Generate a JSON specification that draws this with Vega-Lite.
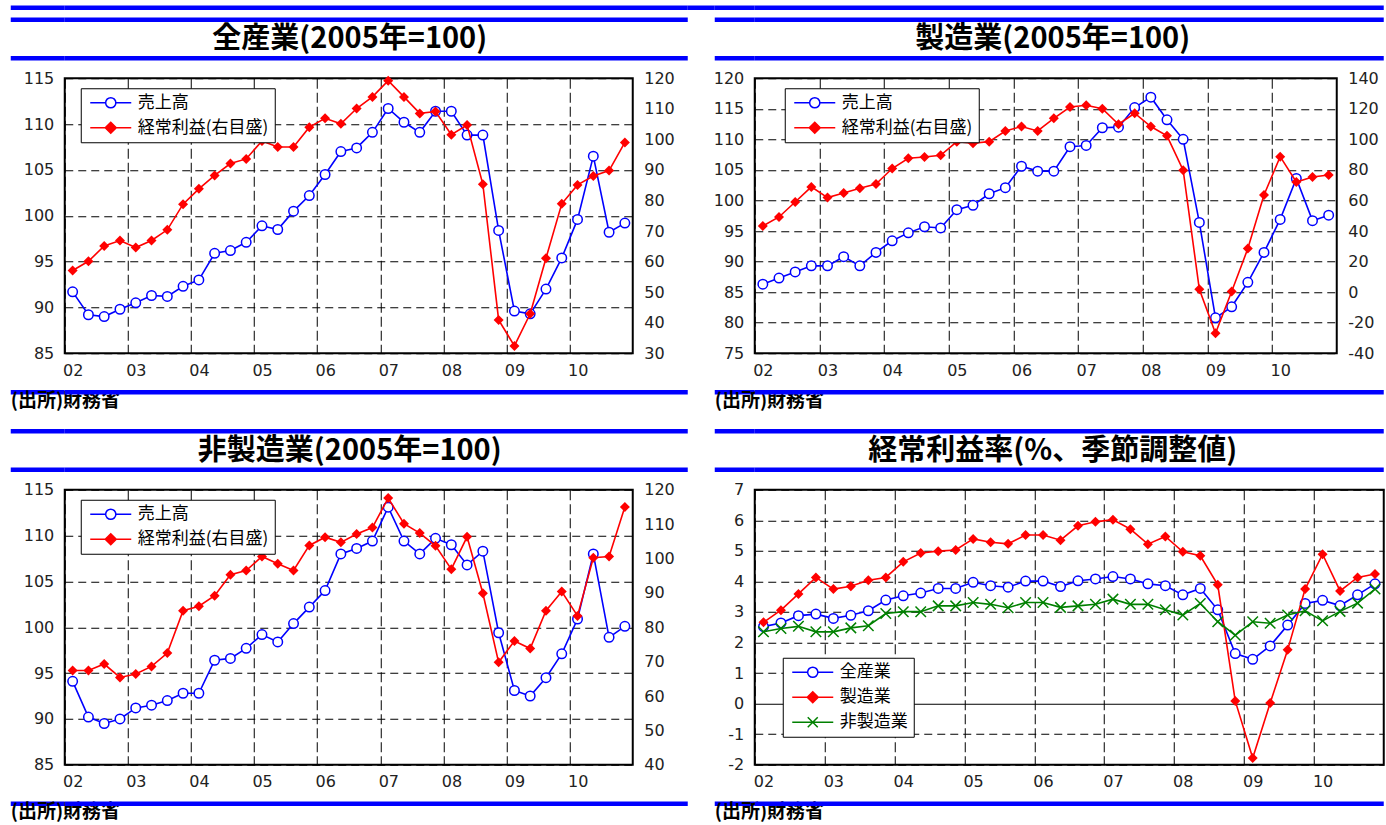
{
  "$schema": "https://vega.github.io/schema/vega-lite/v6.json",
  "padding": {"left": 7.75, "top": 4.75, "right": 0, "bottom": 0},
  "bounds": "flush",
  "columns": 5,
  "align": "each",
  "spacing": {"row": 19.5, "column": 0},
  "resolve": {"scale": {"color": "independent"}, "legend": {"color": "independent"}},
  "datasets": {
    "zen": [
      {"t":2002.125,"売上高":91.7,"経常利益":57.1},{"t":2002.375,"売上高":89.2,"経常利益":60.1},{"t":2002.625,"売上高":89.0,"経常利益":65.1},{"t":2002.875,"売上高":89.8,"経常利益":66.9},
      {"t":2003.125,"売上高":90.5,"経常利益":64.6},{"t":2003.375,"売上高":91.3,"経常利益":66.9},{"t":2003.625,"売上高":91.2,"経常利益":70.4},{"t":2003.875,"売上高":92.3,"経常利益":78.8},
      {"t":2004.125,"売上高":93.0,"経常利益":83.8},{"t":2004.375,"売上高":95.9,"経常利益":88.2},{"t":2004.625,"売上高":96.2,"経常利益":92.1},{"t":2004.875,"売上高":97.1,"経常利益":93.6},
      {"t":2005.125,"売上高":98.9,"経常利益":99.5},{"t":2005.375,"売上高":98.5,"経常利益":97.5},{"t":2005.625,"売上高":100.5,"経常利益":97.5},{"t":2005.875,"売上高":102.2,"経常利益":104.0},
      {"t":2006.125,"売上高":104.5,"経常利益":106.9},{"t":2006.375,"売上高":107.0,"経常利益":105.1},{"t":2006.625,"売上高":107.4,"経常利益":110.1},{"t":2006.875,"売上高":109.1,"経常利益":113.9},
      {"t":2007.125,"売上高":111.7,"経常利益":119.2},{"t":2007.375,"売上高":110.2,"経常利益":113.9},{"t":2007.625,"売上高":109.1,"経常利益":108.5},{"t":2007.875,"売上高":111.4,"経常利益":109.1},
      {"t":2008.125,"売上高":111.4,"経常利益":101.5},{"t":2008.375,"売上高":108.8,"経常利益":104.7},{"t":2008.625,"売上高":108.8,"経常利益":85.3},{"t":2008.875,"売上高":98.4,"経常利益":40.9},
      {"t":2009.125,"売上高":89.6,"経常利益":32.4},{"t":2009.375,"売上高":89.3,"経常利益":42.9},{"t":2009.625,"売上高":92.0,"経常利益":61.1},{"t":2009.875,"売上高":95.4,"経常利益":78.9},
      {"t":2010.125,"売上高":99.6,"経常利益":85.1},{"t":2010.375,"売上高":106.5,"経常利益":88.0},{"t":2010.625,"売上高":98.2,"経常利益":89.8},{"t":2010.875,"売上高":99.2,"経常利益":99.0}
    ],
    "sei": [
      {"t":2002.125,"売上高":86.3,"経常利益":43.3},{"t":2002.375,"売上高":87.3,"経常利益":49.2},{"t":2002.625,"売上高":88.3,"経常利益":59.0},{"t":2002.875,"売上高":89.3,"経常利益":68.9},
      {"t":2003.125,"売上高":89.3,"経常利益":61.9},{"t":2003.375,"売上高":90.8,"経常利益":64.9},{"t":2003.625,"売上高":89.3,"経常利益":68.0},{"t":2003.875,"売上高":91.5,"経常利益":70.8},
      {"t":2004.125,"売上高":93.4,"経常利益":80.9},{"t":2004.375,"売上高":94.7,"経常利益":87.6},{"t":2004.625,"売上高":95.7,"経常利益":88.5},{"t":2004.875,"売上高":95.5,"経常利益":89.6},
      {"t":2005.125,"売上高":98.5,"経常利益":98.5},{"t":2005.375,"売上高":99.2,"経常利益":97.5},{"t":2005.625,"売上高":101.1,"経常利益":98.5},{"t":2005.875,"売上高":102.1,"経常利益":105.5},
      {"t":2006.125,"売上高":105.6,"経常利益":108.4},{"t":2006.375,"売上高":104.8,"経常利益":105.5},{"t":2006.625,"売上高":104.8,"経常利益":113.8},{"t":2006.875,"売上高":108.8,"経常利益":121.2},
      {"t":2007.125,"売上高":109.0,"経常利益":122.3},{"t":2007.375,"売上高":111.9,"経常利益":120.1},{"t":2007.625,"売上高":112.0,"経常利益":109.9},{"t":2007.875,"売上高":115.2,"経常利益":117.1},
      {"t":2008.125,"売上高":116.9,"経常利益":108.4},{"t":2008.375,"売上高":113.2,"経常利益":102.3},{"t":2008.625,"売上高":110.0,"経常利益":79.8},{"t":2008.875,"売上高":96.4,"経常利益":1.9},
      {"t":2009.125,"売上高":80.8,"経常利益":-26.9},{"t":2009.375,"売上高":82.6,"経常利益":0.4},{"t":2009.625,"売上高":86.6,"経常利益":28.5},{"t":2009.875,"売上高":91.5,"経常利益":63.6},
      {"t":2010.125,"売上高":96.9,"経常利益":88.7},{"t":2010.375,"売上高":103.6,"経常利益":72.1},{"t":2010.625,"売上高":96.7,"経常利益":75.4},{"t":2010.875,"売上高":97.6,"経常利益":76.7}
    ],
    "hisei": [
      {"t":2002.125,"売上高":94.1,"経常利益":67.4},{"t":2002.375,"売上高":90.2,"経常利益":67.4},{"t":2002.625,"売上高":89.5,"経常利益":69.3},{"t":2002.875,"売上高":90.0,"経常利益":65.4},
      {"t":2003.125,"売上高":91.2,"経常利益":66.4},{"t":2003.375,"売上高":91.5,"経常利益":68.6},{"t":2003.625,"売上高":92.0,"経常利益":72.5},{"t":2003.875,"売上高":92.8,"経常利益":84.8},
      {"t":2004.125,"売上高":92.8,"経常利益":86.1},{"t":2004.375,"売上高":96.4,"経常利益":89.2},{"t":2004.625,"売上高":96.6,"経常利益":95.3},{"t":2004.875,"売上高":97.7,"経常利益":96.5},
      {"t":2005.125,"売上高":99.2,"経常利益":100.6},{"t":2005.375,"売上高":98.4,"経常利益":98.5},{"t":2005.625,"売上高":100.4,"経常利益":96.5},{"t":2005.875,"売上高":102.2,"経常利益":103.8},
      {"t":2006.125,"売上高":104.0,"経常利益":106.2},{"t":2006.375,"売上高":108.0,"経常利益":104.7},{"t":2006.625,"売上高":108.6,"経常利益":107.1},{"t":2006.875,"売上高":109.4,"経常利益":109.0},
      {"t":2007.125,"売上高":113.1,"経常利益":117.6},{"t":2007.375,"売上高":109.4,"経常利益":110.1},{"t":2007.625,"売上高":108.0,"経常利益":107.4},{"t":2007.875,"売上高":109.7,"経常利益":103.7},
      {"t":2008.125,"売上高":109.0,"経常利益":96.9},{"t":2008.375,"売上高":106.8,"経常利益":106.3},{"t":2008.625,"売上高":108.3,"経常利益":89.9},{"t":2008.875,"売上高":99.4,"経常利益":69.8},
      {"t":2009.125,"売上高":93.1,"経常利益":76.0},{"t":2009.375,"売上高":92.5,"経常利益":73.8},{"t":2009.625,"売上高":94.5,"経常利益":84.8},{"t":2009.875,"売上高":97.1,"経常利益":90.4},
      {"t":2010.125,"売上高":100.9,"経常利益":83.3},{"t":2010.375,"売上高":108.0,"経常利益":100.2},{"t":2010.625,"売上高":98.9,"経常利益":100.6},{"t":2010.875,"売上高":100.1,"経常利益":115.0}
    ],
    "ritsu": [
      {"t":2002.125,"全産業":2.52,"製造業":2.66,"非製造業":2.35},{"t":2002.375,"全産業":2.64,"製造業":3.06,"非製造業":2.46},{"t":2002.625,"全産業":2.88,"製造業":3.59,"非製造業":2.53},{"t":2002.875,"全産業":2.93,"製造業":4.13,"非製造業":2.35},
      {"t":2003.125,"全産業":2.79,"製造業":3.75,"非製造業":2.35},{"t":2003.375,"全産業":2.89,"製造業":3.84,"非製造業":2.48},{"t":2003.625,"全産業":3.04,"製造業":4.04,"非製造業":2.55},{"t":2003.875,"全産業":3.39,"製造業":4.13,"非製造業":2.95},
      {"t":2004.125,"全産業":3.53,"製造業":4.64,"非製造業":3.01},{"t":2004.375,"全産業":3.62,"製造業":4.93,"非製造業":3.01},{"t":2004.625,"全産業":3.77,"製造業":4.99,"非製造業":3.20},{"t":2004.875,"全産業":3.77,"製造業":5.03,"非製造業":3.20},
      {"t":2005.125,"全産業":3.97,"製造業":5.39,"非製造業":3.31},{"t":2005.375,"全産業":3.86,"製造業":5.28,"非製造業":3.25},{"t":2005.625,"全産業":3.81,"製造業":5.23,"非製造業":3.14},{"t":2005.875,"全産業":4.01,"製造業":5.52,"非製造業":3.31},
      {"t":2006.125,"全産業":4.01,"製造業":5.52,"非製造業":3.31},{"t":2006.375,"全産業":3.83,"製造業":5.35,"非製造業":3.15},{"t":2006.625,"全産業":4.02,"製造業":5.82,"非製造業":3.20},{"t":2006.875,"全産業":4.08,"製造業":5.95,"非製造業":3.25},
      {"t":2007.125,"全産業":4.16,"製造業":6.02,"非製造業":3.42},{"t":2007.375,"全産業":4.08,"製造業":5.71,"非製造業":3.25},{"t":2007.625,"全産業":3.92,"製造業":5.22,"非製造業":3.25},{"t":2007.875,"全産業":3.86,"製造業":5.47,"非製造業":3.07},
      {"t":2008.125,"全産業":3.56,"製造業":4.97,"非製造業":2.90},{"t":2008.375,"全産業":3.77,"製造業":4.84,"非製造業":3.28},{"t":2008.625,"全産業":3.07,"製造業":3.89,"非製造業":2.68},{"t":2008.875,"全産業":1.64,"製造業":0.09,"非製造業":2.24},
      {"t":2009.125,"全産業":1.45,"製造業":-1.78,"非製造業":2.68},{"t":2009.375,"全産業":1.89,"製造業":0.02,"非製造業":2.63},{"t":2009.625,"全産業":2.57,"製造業":1.76,"非製造業":2.90},{"t":2009.875,"全産業":3.28,"製造業":3.75,"非製造業":3.04},
      {"t":2010.125,"全産業":3.38,"製造業":4.89,"非製造業":2.71},{"t":2010.375,"全産業":3.21,"製造業":3.69,"非製造業":3.02},{"t":2010.625,"全産業":3.56,"製造業":4.13,"非製造業":3.29},{"t":2010.875,"全産業":3.92,"製造業":4.24,"非製造業":3.75}
    ]
  },
  "concat": [
    {"width": 54, "height": 50.5, "data": {"values": [{"part": "header"}]}, "layer": [
      {"mark": {"type": "rule", "color": "#0000ff", "strokeWidth": 4.5}, "encoding": {"y": {"datum": 1, "type": "quantitative", "scale": {"domain": [0, 1]}, "axis": null}}},
      {"mark": {"type": "rule", "color": "#0000ff", "strokeWidth": 4.5}, "encoding": {"y": {"datum": 0.7624, "type": "quantitative", "scale": {"domain": [0, 1]}, "axis": null}}},
      {"mark": {"type": "rule", "color": "#0000ff", "strokeWidth": 4.5}, "encoding": {"y": {"datum": 0, "type": "quantitative", "scale": {"domain": [0, 1]}, "axis": null}}}
    ]},
    {"width": 623, "height": 50.5, "data": {"values": [{"title": "全産業(2005年=100)"}]}, "layer": [
      {"mark": {"type": "rule", "color": "#0000ff", "strokeWidth": 4.5}, "encoding": {"y": {"datum": 1, "type": "quantitative", "scale": {"domain": [0, 1]}, "axis": null}}},
      {"mark": {"type": "rule", "color": "#0000ff", "strokeWidth": 4.5}, "encoding": {"y": {"datum": 0.7624, "type": "quantitative", "scale": {"domain": [0, 1]}, "axis": null}}},
      {"mark": {"type": "rule", "color": "#0000ff", "strokeWidth": 4.5}, "encoding": {"y": {"datum": 0, "type": "quantitative", "scale": {"domain": [0, 1]}, "axis": null}}},
      {"mark": {"type": "text", "font": "Noto Sans CJK JP", "fontWeight": "bold", "fontSize": 29, "color": "#000", "align": "center", "baseline": "middle"}, "encoding": {"text": {"field": "title"}, "x": {"datum": 0.4575, "type": "quantitative", "scale": {"domain": [0, 1]}, "axis": null}, "y": {"datum": 0.3812, "type": "quantitative", "scale": {"domain": [0, 1]}, "axis": null}}}
    ]},
    {"width": 27, "height": 50.5, "data": {"values": [{"part": "header"}]}, "mark": {"type": "rule", "color": "#0000ff", "strokeWidth": 4.5}, "encoding": {"y": {"datum": 1, "type": "quantitative", "scale": {"domain": [0, 1]}, "axis": null}}},
    {"width": 40, "height": 50.5, "data": {"values": [{"part": "header"}]}, "layer": [
      {"mark": {"type": "rule", "color": "#0000ff", "strokeWidth": 4.5}, "encoding": {"y": {"datum": 1, "type": "quantitative", "scale": {"domain": [0, 1]}, "axis": null}}},
      {"mark": {"type": "rule", "color": "#0000ff", "strokeWidth": 4.5}, "encoding": {"y": {"datum": 0.7624, "type": "quantitative", "scale": {"domain": [0, 1]}, "axis": null}}},
      {"mark": {"type": "rule", "color": "#0000ff", "strokeWidth": 4.5}, "encoding": {"y": {"datum": 0, "type": "quantitative", "scale": {"domain": [0, 1]}, "axis": null}}}
    ]},
    {"width": 629, "height": 50.5, "data": {"values": [{"title": "製造業(2005年=100)"}]}, "layer": [
      {"mark": {"type": "rule", "color": "#0000ff", "strokeWidth": 4.5}, "encoding": {"y": {"datum": 1, "type": "quantitative", "scale": {"domain": [0, 1]}, "axis": null}}},
      {"mark": {"type": "rule", "color": "#0000ff", "strokeWidth": 4.5}, "encoding": {"y": {"datum": 0.7624, "type": "quantitative", "scale": {"domain": [0, 1]}, "axis": null}}},
      {"mark": {"type": "rule", "color": "#0000ff", "strokeWidth": 4.5}, "encoding": {"y": {"datum": 0, "type": "quantitative", "scale": {"domain": [0, 1]}, "axis": null}}},
      {"mark": {"type": "text", "font": "Noto Sans CJK JP", "fontWeight": "bold", "fontSize": 29, "color": "#000", "align": "center", "baseline": "middle"}, "encoding": {"text": {"field": "title"}, "x": {"datum": 0.4738, "type": "quantitative", "scale": {"domain": [0, 1]}, "axis": null}, "y": {"datum": 0.3812, "type": "quantitative", "scale": {"domain": [0, 1]}, "axis": null}}}
    ]},

    {"width": 54, "height": 275, "data": {"values": []}, "mark": {"type": "rule", "opacity": 0}, "encoding": {}},
    {
      "width": 568, "height": 275,
      "view": {"stroke": "#000", "strokeWidth": 2},
      "data": {"name": "zen"},
      "encoding": {"x": {"field": "t", "type": "quantitative", "scale": {"domain": [2002, 2011], "nice": false, "zero": false}, "axis": {"values": [2002,2003,2004,2005,2006,2007,2008,2009,2010], "grid": true, "gridDash": [10, 4], "labelExpr": "slice('0' + (datum.value - 2000), -2)", "labelOffset": 8}}},
      "layer": [
        {
          "transform": [{"fold": ["売上高"], "as": ["series", "value"]}],
          "encoding": {"y": {"field": "value", "type": "quantitative", "scale": {"domain": [85, 115], "nice": false, "zero": false}, "axis": {"orient": "left", "values": [85,90,95,100,105,110,115], "grid": true, "gridDash": [8, 5]}}},
          "layer": [
            {"mark": {"type": "line", "strokeWidth": 1.6}, "encoding": {"color": {"field": "series", "type": "nominal", "scale": {"domain": ["売上高", "経常利益"], "range": ["#0000ff", "#ff0000"]},
              "legend": {"title": null, "orient": "none", "legendX": 16, "legendY": 10, "fillColor": "#fff", "strokeColor": "#000", "padding": 6, "symbolSize": 100, "symbolStrokeWidth": 1.5, "labelOffset": 34, "labelFontSize": 17, "labelFont": "Noto Sans CJK JP", "labelColor": "#000", "rowPadding": 7, "labelExpr": "datum.label === '経常利益' ? '経常利益(右目盛)' : datum.label",
                "encoding": {"symbols": {"shape": {"condition": {"test": "datum.value === '売上高'", "value": "M-1,0H2.08M4.12,0H7.2M4.12,0A1.02,1.02,0,1,1,2.08,0A1.02,1.02,0,1,1,4.12,0Z"}, "value": "M-1,0H7.2M3.1,-1.1L4.2,0L3.1,1.1L2.0,0Z"}, "fill": {"condition": {"test": "datum.value === '売上高'", "value": "#ffffff"}, "value": "#ff0000"}}}}}}},
            {"mark": {"type": "point", "shape": "circle", "filled": true, "fill": "#ffffff", "stroke": "#0000ff", "strokeWidth": 1.5, "size": 90, "opacity": 1}}
          ]
        },
        {
          "transform": [{"fold": ["経常利益"], "as": ["series", "value"]}],
          "encoding": {"y": {"field": "value", "type": "quantitative", "scale": {"domain": [30, 120], "nice": false, "zero": false}, "axis": {"orient": "right", "values": [30,40,50,60,70,80,90,100,110,120], "grid": false}}},
          "layer": [
            {"mark": {"type": "line", "strokeWidth": 1.6}, "encoding": {"color": {"field": "series", "type": "nominal", "scale": {"domain": ["売上高", "経常利益"], "range": ["#0000ff", "#ff0000"]},
              "legend": {"title": null, "orient": "none", "legendX": 16, "legendY": 10, "fillColor": "#fff", "strokeColor": "#000", "padding": 6, "symbolSize": 100, "symbolStrokeWidth": 1.5, "labelOffset": 34, "labelFontSize": 17, "labelFont": "Noto Sans CJK JP", "labelColor": "#000", "rowPadding": 7, "labelExpr": "datum.label === '経常利益' ? '経常利益(右目盛)' : datum.label",
                "encoding": {"symbols": {"shape": {"condition": {"test": "datum.value === '売上高'", "value": "M-1,0H2.08M4.12,0H7.2M4.12,0A1.02,1.02,0,1,1,2.08,0A1.02,1.02,0,1,1,4.12,0Z"}, "value": "M-1,0H7.2M3.1,-1.1L4.2,0L3.1,1.1L2.0,0Z"}, "fill": {"condition": {"test": "datum.value === '売上高'", "value": "#ffffff"}, "value": "#ff0000"}}}}}}},
            {"mark": {"type": "point", "shape": "diamond", "filled": true, "color": "#ff0000", "size": 100, "opacity": 1}}
          ]
        }
      ],
      "resolve": {"scale": {"y": "independent"}}
    },
    {"width": 27, "height": 275, "data": {"values": []}, "mark": {"type": "rule", "opacity": 0}, "encoding": {}},
    {"width": 40, "height": 275, "data": {"values": []}, "mark": {"type": "rule", "opacity": 0}, "encoding": {}},
    {
      "width": 582, "height": 275,
      "view": {"stroke": "#000", "strokeWidth": 2},
      "data": {"name": "sei"},
      "encoding": {"x": {"field": "t", "type": "quantitative", "scale": {"domain": [2002, 2011], "nice": false, "zero": false}, "axis": {"values": [2002,2003,2004,2005,2006,2007,2008,2009,2010], "grid": true, "gridDash": [10, 4], "labelExpr": "slice('0' + (datum.value - 2000), -2)", "labelOffset": 8.1}}},
      "layer": [
        {
          "transform": [{"fold": ["売上高"], "as": ["series", "value"]}],
          "encoding": {"y": {"field": "value", "type": "quantitative", "scale": {"domain": [75, 120], "nice": false, "zero": false}, "axis": {"orient": "left", "values": [75,80,85,90,95,100,105,110,115,120], "grid": true, "gridDash": [8, 5]}}},
          "layer": [
            {"mark": {"type": "line", "strokeWidth": 1.6}, "encoding": {"color": {"field": "series", "type": "nominal", "scale": {"domain": ["売上高", "経常利益"], "range": ["#0000ff", "#ff0000"]},
              "legend": {"title": null, "orient": "none", "legendX": 30, "legendY": 10, "fillColor": "#fff", "strokeColor": "#000", "padding": 6, "symbolSize": 100, "symbolStrokeWidth": 1.5, "labelOffset": 34, "labelFontSize": 17, "labelFont": "Noto Sans CJK JP", "labelColor": "#000", "rowPadding": 7, "labelExpr": "datum.label === '経常利益' ? '経常利益(右目盛)' : datum.label",
                "encoding": {"symbols": {"shape": {"condition": {"test": "datum.value === '売上高'", "value": "M-1,0H2.08M4.12,0H7.2M4.12,0A1.02,1.02,0,1,1,2.08,0A1.02,1.02,0,1,1,4.12,0Z"}, "value": "M-1,0H7.2M3.1,-1.1L4.2,0L3.1,1.1L2.0,0Z"}, "fill": {"condition": {"test": "datum.value === '売上高'", "value": "#ffffff"}, "value": "#ff0000"}}}}}}},
            {"mark": {"type": "point", "shape": "circle", "filled": true, "fill": "#ffffff", "stroke": "#0000ff", "strokeWidth": 1.5, "size": 90, "opacity": 1}}
          ]
        },
        {
          "transform": [{"fold": ["経常利益"], "as": ["series", "value"]}],
          "encoding": {"y": {"field": "value", "type": "quantitative", "scale": {"domain": [-40, 140], "nice": false, "zero": false}, "axis": {"orient": "right", "values": [-40,-20,0,20,40,60,80,100,120,140], "grid": false, "labelExpr": "'' + datum.value"}}},
          "layer": [
            {"mark": {"type": "line", "strokeWidth": 1.6}, "encoding": {"color": {"field": "series", "type": "nominal", "scale": {"domain": ["売上高", "経常利益"], "range": ["#0000ff", "#ff0000"]},
              "legend": {"title": null, "orient": "none", "legendX": 30, "legendY": 10, "fillColor": "#fff", "strokeColor": "#000", "padding": 6, "symbolSize": 100, "symbolStrokeWidth": 1.5, "labelOffset": 34, "labelFontSize": 17, "labelFont": "Noto Sans CJK JP", "labelColor": "#000", "rowPadding": 7, "labelExpr": "datum.label === '経常利益' ? '経常利益(右目盛)' : datum.label",
                "encoding": {"symbols": {"shape": {"condition": {"test": "datum.value === '売上高'", "value": "M-1,0H2.08M4.12,0H7.2M4.12,0A1.02,1.02,0,1,1,2.08,0A1.02,1.02,0,1,1,4.12,0Z"}, "value": "M-1,0H7.2M3.1,-1.1L4.2,0L3.1,1.1L2.0,0Z"}, "fill": {"condition": {"test": "datum.value === '売上高'", "value": "#ffffff"}, "value": "#ff0000"}}}}}}},
            {"mark": {"type": "point", "shape": "diamond", "filled": true, "color": "#ff0000", "size": 100, "opacity": 1}}
          ]
        }
      ],
      "resolve": {"scale": {"y": "independent"}}
    },

    {"width": 54, "height": 39, "data": {"values": [{"source": "(出所)財務省"}]}, "layer": [
      {"mark": {"type": "rule", "color": "#0000ff", "strokeWidth": 4.5}, "encoding": {"y": {"datum": 1, "type": "quantitative", "scale": {"domain": [0, 2]}, "axis": null}}},
      {"mark": {"type": "text", "align": "left", "baseline": "middle", "font": "Noto Sans CJK JP", "fontWeight": "bold", "fontSize": 19, "color": "#000"}, "encoding": {"text": {"field": "source"}, "x": {"datum": 0, "type": "quantitative", "scale": {"domain": [0, 1]}, "axis": null}, "y": {"datum": 0.56, "type": "quantitative", "scale": {"domain": [0, 2]}, "axis": null}}}
    ]},
    {"width": 623, "height": 39, "data": {"values": [{"part": "footer"}]}, "mark": {"type": "rule", "color": "#0000ff", "strokeWidth": 4.5}, "encoding": {"y": {"datum": 1, "type": "quantitative", "scale": {"domain": [0, 2]}, "axis": null}}},
    {"width": 27, "height": 39, "data": {"values": []}, "mark": {"type": "rule", "opacity": 0}, "encoding": {}},
    {"width": 40, "height": 39, "data": {"values": [{"source": "(出所)財務省"}]}, "layer": [
      {"mark": {"type": "rule", "color": "#0000ff", "strokeWidth": 4.5}, "encoding": {"y": {"datum": 1, "type": "quantitative", "scale": {"domain": [0, 2]}, "axis": null}}},
      {"mark": {"type": "text", "align": "left", "baseline": "middle", "font": "Noto Sans CJK JP", "fontWeight": "bold", "fontSize": 19, "color": "#000"}, "encoding": {"text": {"field": "source"}, "x": {"datum": 0, "type": "quantitative", "scale": {"domain": [0, 1]}, "axis": null}, "y": {"datum": 0.56, "type": "quantitative", "scale": {"domain": [0, 2]}, "axis": null}}}
    ]},
    {"width": 629, "height": 39, "data": {"values": [{"part": "footer"}]}, "mark": {"type": "rule", "color": "#0000ff", "strokeWidth": 4.5}, "encoding": {"y": {"datum": 1, "type": "quantitative", "scale": {"domain": [0, 2]}, "axis": null}}},

    {"width": 54, "height": 38.5, "data": {"values": [{"part": "header"}]}, "layer": [
      {"mark": {"type": "rule", "color": "#0000ff", "strokeWidth": 4.5}, "encoding": {"y": {"datum": 1, "type": "quantitative", "scale": {"domain": [0, 1]}, "axis": null}}},
      {"mark": {"type": "rule", "color": "#0000ff", "strokeWidth": 4.5}, "encoding": {"y": {"datum": 0, "type": "quantitative", "scale": {"domain": [0, 1]}, "axis": null}}}
    ]},
    {"width": 623, "height": 38.5, "data": {"values": [{"title": "非製造業(2005年=100)"}]}, "layer": [
      {"mark": {"type": "rule", "color": "#0000ff", "strokeWidth": 4.5}, "encoding": {"y": {"datum": 1, "type": "quantitative", "scale": {"domain": [0, 1]}, "axis": null}}},
      {"mark": {"type": "rule", "color": "#0000ff", "strokeWidth": 4.5}, "encoding": {"y": {"datum": 0, "type": "quantitative", "scale": {"domain": [0, 1]}, "axis": null}}},
      {"mark": {"type": "text", "font": "Noto Sans CJK JP", "fontWeight": "bold", "fontSize": 29, "color": "#000", "align": "center", "baseline": "middle"}, "encoding": {"text": {"field": "title"}, "x": {"datum": 0.4575, "type": "quantitative", "scale": {"domain": [0, 1]}, "axis": null}, "y": {"datum": 0.5, "type": "quantitative", "scale": {"domain": [0, 1]}, "axis": null}}}
    ]},
    {"width": 27, "height": 38.5, "data": {"values": []}, "mark": {"type": "rule", "opacity": 0}, "encoding": {}},
    {"width": 40, "height": 38.5, "data": {"values": [{"part": "header"}]}, "layer": [
      {"mark": {"type": "rule", "color": "#0000ff", "strokeWidth": 4.5}, "encoding": {"y": {"datum": 1, "type": "quantitative", "scale": {"domain": [0, 1]}, "axis": null}}},
      {"mark": {"type": "rule", "color": "#0000ff", "strokeWidth": 4.5}, "encoding": {"y": {"datum": 0, "type": "quantitative", "scale": {"domain": [0, 1]}, "axis": null}}}
    ]},
    {"width": 629, "height": 38.5, "data": {"values": [{"title": "経常利益率(%、季節調整値)"}]}, "layer": [
      {"mark": {"type": "rule", "color": "#0000ff", "strokeWidth": 4.5}, "encoding": {"y": {"datum": 1, "type": "quantitative", "scale": {"domain": [0, 1]}, "axis": null}}},
      {"mark": {"type": "rule", "color": "#0000ff", "strokeWidth": 4.5}, "encoding": {"y": {"datum": 0, "type": "quantitative", "scale": {"domain": [0, 1]}, "axis": null}}},
      {"mark": {"type": "text", "font": "Noto Sans CJK JP", "fontWeight": "bold", "fontSize": 29, "color": "#000", "align": "center", "baseline": "middle"}, "encoding": {"text": {"field": "title"}, "x": {"datum": 0.4738, "type": "quantitative", "scale": {"domain": [0, 1]}, "axis": null}, "y": {"datum": 0.5, "type": "quantitative", "scale": {"domain": [0, 1]}, "axis": null}}}
    ]},

    {"width": 54, "height": 275, "data": {"values": []}, "mark": {"type": "rule", "opacity": 0}, "encoding": {}},
    {
      "width": 568, "height": 275,
      "view": {"stroke": "#000", "strokeWidth": 2},
      "data": {"name": "hisei"},
      "encoding": {"x": {"field": "t", "type": "quantitative", "scale": {"domain": [2002, 2011], "nice": false, "zero": false}, "axis": {"values": [2002,2003,2004,2005,2006,2007,2008,2009,2010], "grid": true, "gridDash": [10, 4], "labelExpr": "slice('0' + (datum.value - 2000), -2)", "labelOffset": 8}}},
      "layer": [
        {
          "transform": [{"fold": ["売上高"], "as": ["series", "value"]}],
          "encoding": {"y": {"field": "value", "type": "quantitative", "scale": {"domain": [85, 115], "nice": false, "zero": false}, "axis": {"orient": "left", "values": [85,90,95,100,105,110,115], "grid": true, "gridDash": [8, 5]}}},
          "layer": [
            {"mark": {"type": "line", "strokeWidth": 1.6}, "encoding": {"color": {"field": "series", "type": "nominal", "scale": {"domain": ["売上高", "経常利益"], "range": ["#0000ff", "#ff0000"]},
              "legend": {"title": null, "orient": "none", "legendX": 16, "legendY": 10, "fillColor": "#fff", "strokeColor": "#000", "padding": 6, "symbolSize": 100, "symbolStrokeWidth": 1.5, "labelOffset": 34, "labelFontSize": 17, "labelFont": "Noto Sans CJK JP", "labelColor": "#000", "rowPadding": 7, "labelExpr": "datum.label === '経常利益' ? '経常利益(右目盛)' : datum.label",
                "encoding": {"symbols": {"shape": {"condition": {"test": "datum.value === '売上高'", "value": "M-1,0H2.08M4.12,0H7.2M4.12,0A1.02,1.02,0,1,1,2.08,0A1.02,1.02,0,1,1,4.12,0Z"}, "value": "M-1,0H7.2M3.1,-1.1L4.2,0L3.1,1.1L2.0,0Z"}, "fill": {"condition": {"test": "datum.value === '売上高'", "value": "#ffffff"}, "value": "#ff0000"}}}}}}},
            {"mark": {"type": "point", "shape": "circle", "filled": true, "fill": "#ffffff", "stroke": "#0000ff", "strokeWidth": 1.5, "size": 90, "opacity": 1}}
          ]
        },
        {
          "transform": [{"fold": ["経常利益"], "as": ["series", "value"]}],
          "encoding": {"y": {"field": "value", "type": "quantitative", "scale": {"domain": [40, 120], "nice": false, "zero": false}, "axis": {"orient": "right", "values": [40,50,60,70,80,90,100,110,120], "grid": false}}},
          "layer": [
            {"mark": {"type": "line", "strokeWidth": 1.6}, "encoding": {"color": {"field": "series", "type": "nominal", "scale": {"domain": ["売上高", "経常利益"], "range": ["#0000ff", "#ff0000"]},
              "legend": {"title": null, "orient": "none", "legendX": 16, "legendY": 10, "fillColor": "#fff", "strokeColor": "#000", "padding": 6, "symbolSize": 100, "symbolStrokeWidth": 1.5, "labelOffset": 34, "labelFontSize": 17, "labelFont": "Noto Sans CJK JP", "labelColor": "#000", "rowPadding": 7, "labelExpr": "datum.label === '経常利益' ? '経常利益(右目盛)' : datum.label",
                "encoding": {"symbols": {"shape": {"condition": {"test": "datum.value === '売上高'", "value": "M-1,0H2.08M4.12,0H7.2M4.12,0A1.02,1.02,0,1,1,2.08,0A1.02,1.02,0,1,1,4.12,0Z"}, "value": "M-1,0H7.2M3.1,-1.1L4.2,0L3.1,1.1L2.0,0Z"}, "fill": {"condition": {"test": "datum.value === '売上高'", "value": "#ffffff"}, "value": "#ff0000"}}}}}}},
            {"mark": {"type": "point", "shape": "diamond", "filled": true, "color": "#ff0000", "size": 100, "opacity": 1}}
          ]
        }
      ],
      "resolve": {"scale": {"y": "independent"}}
    },
    {"width": 27, "height": 275, "data": {"values": []}, "mark": {"type": "rule", "opacity": 0}, "encoding": {}},
    {"width": 40, "height": 275, "data": {"values": []}, "mark": {"type": "rule", "opacity": 0}, "encoding": {}},
    {
      "width": 629, "height": 275,
      "view": {"stroke": "#000", "strokeWidth": 2},
      "data": {"name": "ritsu"},
      "encoding": {"x": {"field": "t", "type": "quantitative", "scale": {"domain": [2002, 2011], "nice": false, "zero": false}, "axis": {"values": [2002,2003,2004,2005,2006,2007,2008,2009,2010], "grid": true, "gridDash": [10, 4], "labelExpr": "slice('0' + (datum.value - 2000), -2)", "labelOffset": 8.7}}},
      "layer": [
        {
          "transform": [{"fold": ["全産業"], "as": ["series", "value"]}],
          "encoding": {"y": {"field": "value", "type": "quantitative", "scale": {"domain": [-2, 7], "nice": false, "zero": false}, "axis": {"orient": "left", "values": [-2,-1,0,1,2,3,4,5,6,7], "grid": true, "labelExpr": "'' + datum.value", "gridDash": {"condition": {"test": "datum.value === 0", "value": []}, "value": [8, 5]}}}},
          "layer": [
            {"mark": {"type": "line", "strokeWidth": 1.6}, "encoding": {"color": {"field": "series", "type": "nominal", "scale": {"domain": ["全産業", "製造業", "非製造業"], "range": ["#0000ff", "#ff0000", "#008000"]},
              "legend": {"title": null, "orient": "none", "legendX": 28, "legendY": 168, "fillColor": "#fff", "strokeColor": "#000", "padding": 6, "symbolSize": 100, "symbolStrokeWidth": 1.5, "labelOffset": 34, "labelFontSize": 17, "labelFont": "Noto Sans CJK JP", "labelColor": "#000", "rowPadding": 7,
                "encoding": {"symbols": {"shape": {"condition": [{"test": "datum.value === '全産業'", "value": "M-1,0H2.08M4.12,0H7.2M4.12,0A1.02,1.02,0,1,1,2.08,0A1.02,1.02,0,1,1,4.12,0Z"}, {"test": "datum.value === '製造業'", "value": "M-1,0H7.2M3.1,-1.1L4.2,0L3.1,1.1L2.0,0Z"}], "value": "M-1,0H7.2M2.1,-1L4.1,1M2.1,1L4.1,-1"}, "fill": {"condition": [{"test": "datum.value === '全産業'", "value": "#ffffff"}, {"test": "datum.value === '製造業'", "value": "#ff0000"}], "value": "transparent"}}}}}}},
            {"mark": {"type": "point", "shape": "circle", "filled": true, "fill": "#ffffff", "stroke": "#0000ff", "strokeWidth": 1.5, "size": 90, "opacity": 1}}
          ]
        },
        {
          "transform": [{"fold": ["製造業"], "as": ["series", "value"]}],
          "encoding": {"y": {"field": "value", "type": "quantitative", "scale": {"domain": [-2, 7], "nice": false, "zero": false}, "axis": {"orient": "left", "values": [-2,-1,0,1,2,3,4,5,6,7], "grid": true, "labelExpr": "'' + datum.value", "gridDash": {"condition": {"test": "datum.value === 0", "value": []}, "value": [8, 5]}}}},
          "layer": [
            {"mark": {"type": "line", "strokeWidth": 1.6}, "encoding": {"color": {"field": "series", "type": "nominal", "scale": {"domain": ["全産業", "製造業", "非製造業"], "range": ["#0000ff", "#ff0000", "#008000"]},
              "legend": {"title": null, "orient": "none", "legendX": 28, "legendY": 168, "fillColor": "#fff", "strokeColor": "#000", "padding": 6, "symbolSize": 100, "symbolStrokeWidth": 1.5, "labelOffset": 34, "labelFontSize": 17, "labelFont": "Noto Sans CJK JP", "labelColor": "#000", "rowPadding": 7,
                "encoding": {"symbols": {"shape": {"condition": [{"test": "datum.value === '全産業'", "value": "M-1,0H2.08M4.12,0H7.2M4.12,0A1.02,1.02,0,1,1,2.08,0A1.02,1.02,0,1,1,4.12,0Z"}, {"test": "datum.value === '製造業'", "value": "M-1,0H7.2M3.1,-1.1L4.2,0L3.1,1.1L2.0,0Z"}], "value": "M-1,0H7.2M2.1,-1L4.1,1M2.1,1L4.1,-1"}, "fill": {"condition": [{"test": "datum.value === '全産業'", "value": "#ffffff"}, {"test": "datum.value === '製造業'", "value": "#ff0000"}], "value": "transparent"}}}}}}},
            {"mark": {"type": "point", "shape": "diamond", "filled": true, "color": "#ff0000", "size": 100, "opacity": 1}}
          ]
        },
        {
          "transform": [{"fold": ["非製造業"], "as": ["series", "value"]}],
          "encoding": {"y": {"field": "value", "type": "quantitative", "scale": {"domain": [-2, 7], "nice": false, "zero": false}, "axis": {"orient": "left", "values": [-2,-1,0,1,2,3,4,5,6,7], "grid": true, "labelExpr": "'' + datum.value", "gridDash": {"condition": {"test": "datum.value === 0", "value": []}, "value": [8, 5]}}}},
          "layer": [
            {"mark": {"type": "line", "strokeWidth": 1.6}, "encoding": {"color": {"field": "series", "type": "nominal", "scale": {"domain": ["全産業", "製造業", "非製造業"], "range": ["#0000ff", "#ff0000", "#008000"]},
              "legend": {"title": null, "orient": "none", "legendX": 28, "legendY": 168, "fillColor": "#fff", "strokeColor": "#000", "padding": 6, "symbolSize": 100, "symbolStrokeWidth": 1.5, "labelOffset": 34, "labelFontSize": 17, "labelFont": "Noto Sans CJK JP", "labelColor": "#000", "rowPadding": 7,
                "encoding": {"symbols": {"shape": {"condition": [{"test": "datum.value === '全産業'", "value": "M-1,0H2.08M4.12,0H7.2M4.12,0A1.02,1.02,0,1,1,2.08,0A1.02,1.02,0,1,1,4.12,0Z"}, {"test": "datum.value === '製造業'", "value": "M-1,0H7.2M3.1,-1.1L4.2,0L3.1,1.1L2.0,0Z"}], "value": "M-1,0H7.2M2.1,-1L4.1,1M2.1,1L4.1,-1"}, "fill": {"condition": [{"test": "datum.value === '全産業'", "value": "#ffffff"}, {"test": "datum.value === '製造業'", "value": "#ff0000"}], "value": "transparent"}}}}}}},
            {"mark": {"type": "point", "shape": "M-1,-1L1,1M-1,1L1,-1", "filled": false, "stroke": "#008000", "strokeWidth": 1.5, "size": 110, "opacity": 1}}
          ]
        }
      ]
    },

    {"width": 54, "height": 39, "data": {"values": [{"source": "(出所)財務省"}]}, "layer": [
      {"mark": {"type": "rule", "color": "#0000ff", "strokeWidth": 4.5}, "encoding": {"y": {"datum": 1, "type": "quantitative", "scale": {"domain": [0, 2]}, "axis": null}}},
      {"mark": {"type": "text", "align": "left", "baseline": "middle", "font": "Noto Sans CJK JP", "fontWeight": "bold", "fontSize": 19, "color": "#000"}, "encoding": {"text": {"field": "source"}, "x": {"datum": 0, "type": "quantitative", "scale": {"domain": [0, 1]}, "axis": null}, "y": {"datum": 0.56, "type": "quantitative", "scale": {"domain": [0, 2]}, "axis": null}}}
    ]},
    {"width": 623, "height": 39, "data": {"values": [{"part": "footer"}]}, "mark": {"type": "rule", "color": "#0000ff", "strokeWidth": 4.5}, "encoding": {"y": {"datum": 1, "type": "quantitative", "scale": {"domain": [0, 2]}, "axis": null}}},
    {"width": 27, "height": 39, "data": {"values": []}, "mark": {"type": "rule", "opacity": 0}, "encoding": {}},
    {"width": 40, "height": 39, "data": {"values": [{"source": "(出所)財務省"}]}, "layer": [
      {"mark": {"type": "rule", "color": "#0000ff", "strokeWidth": 4.5}, "encoding": {"y": {"datum": 1, "type": "quantitative", "scale": {"domain": [0, 2]}, "axis": null}}},
      {"mark": {"type": "text", "align": "left", "baseline": "middle", "font": "Noto Sans CJK JP", "fontWeight": "bold", "fontSize": 19, "color": "#000"}, "encoding": {"text": {"field": "source"}, "x": {"datum": 0, "type": "quantitative", "scale": {"domain": [0, 1]}, "axis": null}, "y": {"datum": 0.56, "type": "quantitative", "scale": {"domain": [0, 2]}, "axis": null}}}
    ]},
    {"width": 629, "height": 39, "data": {"values": [{"part": "footer"}]}, "mark": {"type": "rule", "color": "#0000ff", "strokeWidth": 4.5}, "encoding": {"y": {"datum": 1, "type": "quantitative", "scale": {"domain": [0, 2]}, "axis": null}}}
  ],
  "config": {
    "background": "white",
    "view": {"stroke": null},
    "font": "Noto Sans CJK JP",
    "axis": {"labelFont": "DejaVu Sans", "labelFontSize": 16, "labelColor": "#222", "ticks": false, "domain": false, "gridColor": "#000", "gridWidth": 1, "gridOpacity": 1, "title": null, "labelPadding": 11},
    "axisX": {"labelFlush": false, "labelOverlap": false, "labelPadding": 9},
    "axisY": {"labelOverlap": false}
  }
}
